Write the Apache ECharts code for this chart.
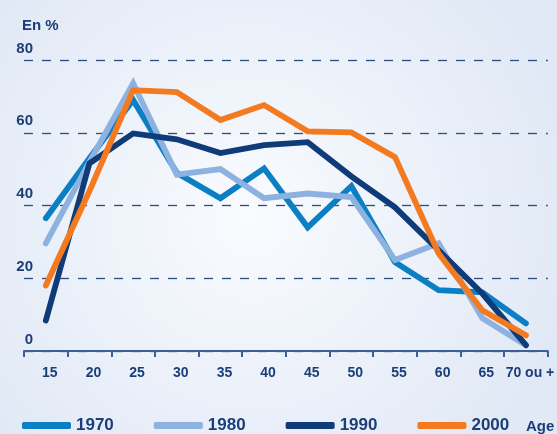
<!DOCTYPE html>
<html>
<head>
<meta charset="utf-8">
<script src="https://cdn.jsdelivr.net/npm/echarts@6/dist/echarts.min.js"></script>
<style>
  html, body { margin: 0; padding: 0; }
  #chart { width: 557px; height: 434px; }
</style>
</head>
<body>
<div id="chart"></div>
<script>
// age groups (x axis)
var ages = ['15', '20', '25', '30', '35', '40', '45', '50', '55', '60', '65', '70 ou +'];

// rates in %
var s1970 = [36.5, 53, 69, 49, 42, 50.2, 34, 45.3, 24.4, 16.7, 16.1, 7.6];
var s1980 = [29.6, 52, 73.6, 48.5, 50, 42, 43.3, 42.3, 25, 29.6, 9, 1.6];
var s1990 = [8.4, 51.6, 59.8, 58.2, 54.4, 56.6, 57.4, 48, 39.5, 27.7, 15.8, 1.6];
var s2000 = [18, 44, 71.7, 71.2, 63.5, 67.6, 60.4, 60.1, 53.3, 26.8, 11.2, 4.3];

var yTicks = { min: 0, max: 80, interval: 20 };

var navy = '#1b3d78';
var font = '"Liberation Sans", Arial, sans-serif';

function line(name, data, color) {
  return {
    name: name,
    type: 'line',
    data: data,
    symbol: 'none',
    itemStyle: { color: color },
    lineStyle: { color: color, width: 5.8, cap: 'round', join: 'miter' }
  };
}

var chart = echarts.init(document.getElementById('chart'));
chart.setOption({
  animation: false,
  backgroundColor: new echarts.graphic.RadialGradient(0.45, 0.5, 0.75, [
    { offset: 0, color: '#f9fbfe' },
    { offset: 1, color: '#e1e9f6' }
  ]),
  title: [
    { text: 'En %', left: 17, top: 13,
      textStyle: { fontFamily: font, fontSize: 15, fontWeight: 'bold', color: navy } },
    { text: 'Age', left: 521, top: 414,
      textStyle: { fontFamily: font, fontSize: 15, fontWeight: 'bold', color: navy } }
  ],
  legend: {
    left: 17,
    top: 412,
    itemWidth: 49,
    itemHeight: 7,
    itemGap: 40,
    icon: 'roundRect',
    textStyle: { fontFamily: font, fontSize: 17, fontWeight: 'bold', color: navy },
    data: ['1970', '1980', '1990', '2000']
  },
  grid: { left: 24, right: 3, top: 60, bottom: 83 },
  xAxis: {
    type: 'category',
    data: ages,
    boundaryGap: true,
    axisLine: { show: true, lineStyle: { color: '#3d5f93', width: 2 } },
    axisTick: { show: true, interval: 0, length: 6, lineStyle: { color: '#3d5f93', width: 2 } },
    axisLabel: {
      interval: 0,
      hideOverlap: false,
      margin: 15,
      fontFamily: font, fontSize: 14, fontWeight: 'bold', color: navy,
      padding: [0, 0, 0, 8]
    }
  },
  yAxis: {
    type: 'value',
    min: yTicks.min,
    max: yTicks.max,
    interval: yTicks.interval,
    axisLine: { show: false },
    axisTick: { show: false },
    axisLabel: {
      inside: true,
      margin: 9,
      align: 'right',
      verticalAlign: 'bottom',
      padding: [0, 0, 4, 0],
      fontFamily: font, fontSize: 15, fontWeight: 'bold', color: navy
    },
    splitLine: { lineStyle: { color: '#2d4d82', width: 1.3, type: [9, 9] } }
  },
  series: [
    line('1970', s1970, '#0b7fc4'),
    line('1980', s1980, '#8db2df'),
    line('1990', s1990, '#0f3b78'),
    line('2000', s2000, '#f47a20')
  ]
});
</script>
</body>
</html>
